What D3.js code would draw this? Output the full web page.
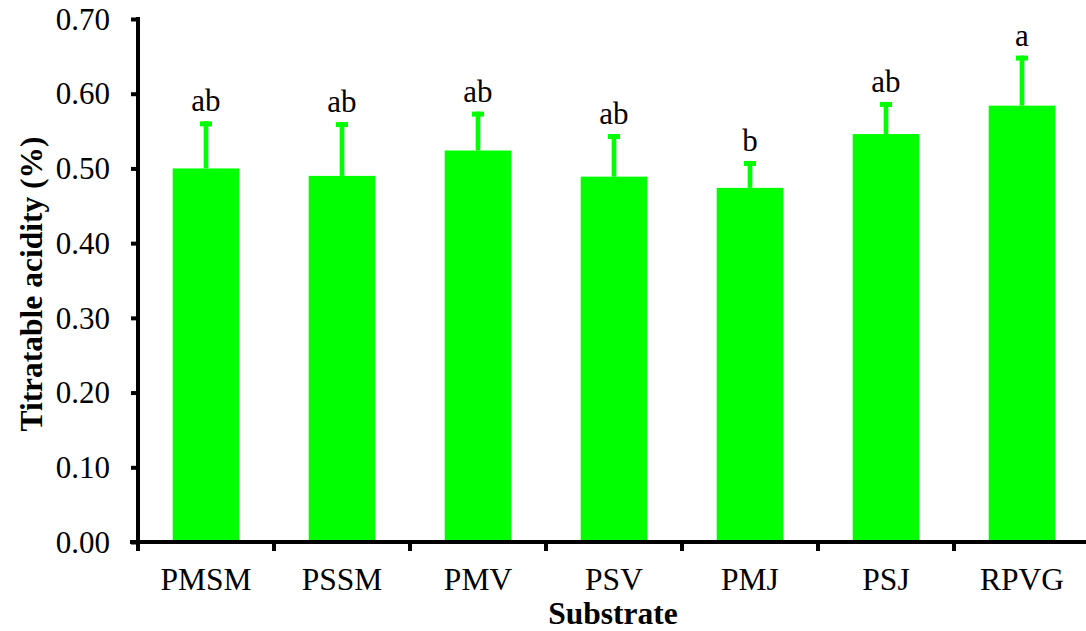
<!DOCTYPE html>
<html><head><meta charset="utf-8">
<script src="https://cdn.jsdelivr.net/npm/d3@7"></script>
<style>body{margin:0;background:#fff;} svg{display:block;} text{font-family:"Liberation Serif","Times New Roman",Times,serif;}</style>
</head><body>
<script>
const categories = ["PMSM","PSSM","PMV","PSV","PMJ","PSJ","RPVG"];
const means = [0.500, 0.490, 0.524, 0.489, 0.474, 0.546, 0.584];
const errUpper = [0.563, 0.562, 0.576, 0.546, 0.510, 0.589, 0.651];
const letters = ["ab","ab","ab","ab","b","ab","a"];
const yTicks = [0,0.1,0.2,0.3,0.4,0.5,0.6,0.7];

const W = 1086, H = 631;
const svg = d3.select("body").append("svg").attr("width", W).attr("height", H);
const green = "#00ff00";

const x = d3.scaleBand().domain(categories).range([138, 1090]).paddingInner(0.51).paddingOuter(0.255);
const y = d3.scaleLinear().domain([0, 0.7]).range([542, 19]);

// bars
svg.selectAll("rect.bar").data(categories).enter().append("rect")
  .attr("x", d => x(d)).attr("width", x.bandwidth())
  .attr("y", (d,i) => y(means[i])).attr("height", (d,i) => y(0) - y(means[i]))
  .attr("fill", green);

// error stems
svg.selectAll("line.stem").data(categories).enter().append("line")
  .attr("x1", d => x(d) + x.bandwidth()/2).attr("x2", d => x(d) + x.bandwidth()/2)
  .attr("y1", (d,i) => y(means[i])).attr("y2", (d,i) => y(errUpper[i]))
  .attr("stroke", green).attr("stroke-width", 4.7);
// caps
svg.selectAll("rect.cap").data(categories).enter().append("rect")
  .attr("x", d => x(d) + x.bandwidth()/2 - 6).attr("width", 12)
  .attr("y", (d,i) => y(errUpper[i])).attr("height", 5)
  .attr("fill", green);

// letters
svg.selectAll("text.letter").data(categories).enter().append("text")
  .attr("x", d => x(d) + x.bandwidth()/2).attr("y", (d,i) => y(errUpper[i]) - 10)
  .attr("text-anchor", "middle").attr("font-size", 31)
  .text((d,i) => letters[i]);

// y axis
const yAxis = d3.axisLeft(y).tickValues(yTicks).tickFormat(d3.format(".2f")).tickSize(7).tickPadding(21);
const ga = svg.append("g").attr("transform", "translate(138,0)").call(yAxis);
ga.select(".domain").remove();
ga.selectAll(".tick line").attr("stroke", "#000").attr("stroke-width", 4);
ga.selectAll(".tick text").attr("font-size", 31).attr("fill", "#000").attr("dy", "0.33em")
  .style("font-family", "'Liberation Serif','Times New Roman',serif");
svg.append("line").attr("x1", 138).attr("x2", 138).attr("y1", 17).attr("y2", 549)
  .attr("stroke", "#000").attr("stroke-width", 4);

// x axis
const xb = d3.scaleLinear().domain([0, 7]).range([138, 1090]);
const gx = svg.append("g").attr("transform", "translate(0,542)");
gx.append("line").attr("x1", 130).attr("x2", 1090).attr("y1", 0).attr("y2", 0)
  .attr("stroke", "#000").attr("stroke-width", 4);
gx.selectAll("line.xt").data(d3.range(0, 7)).enter().append("line")
  .attr("x1", d => xb(d)).attr("x2", d => xb(d)).attr("y1", 0).attr("y2", 9)
  .attr("stroke", "#000").attr("stroke-width", 4);
gx.selectAll("text.cat").data(categories).enter().append("text")
  .attr("x", d => x(d) + x.bandwidth()/2).attr("y", 48)
  .attr("text-anchor", "middle").attr("font-size", 31.5)
  .text(d => d);

// axis titles
svg.append("text").attr("x", 613).attr("y", 624).attr("text-anchor", "middle")
  .attr("font-size", 31.5).attr("font-weight", "bold").text("Substrate");
svg.append("text").attr("transform", "translate(42,284) rotate(-90)").attr("text-anchor", "middle")
  .attr("font-size", 31.5).attr("font-weight", "bold").text("Titratable acidity (%)");
</script>
</body></html>
